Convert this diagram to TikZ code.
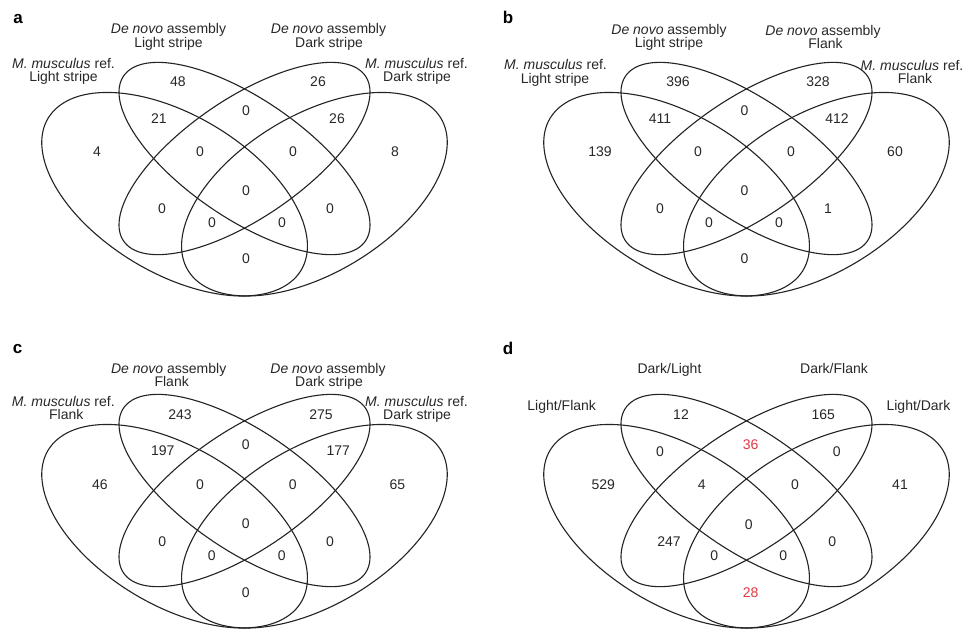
\documentclass[tikz,border=0pt]{standalone}
\usepackage{fontspec}
\setmainfont{Liberation Sans}
\definecolor{linec}{RGB}{35,35,35}
\definecolor{txt}{RGB}{40,40,40}
\definecolor{redc}{RGB}{226,58,70}
\tikzset{
  venn/.style={draw=linec, line width=1.1pt},
  lab/.style={font=\fontsize{14}{14}\selectfont, inner sep=0pt, anchor=base, text=txt},
  num/.style={font=\fontsize{14}{14}\selectfont, inner sep=0pt, text=txt},
  rednum/.style={num, text=redc},
  panel/.style={font=\fontsize{17}{17}\selectfont\bfseries, inner sep=0pt, anchor=base, text=black}
}
\newcommand{\quadvenn}[2]{%
\begin{scope}[shift={(#1,#2)}, xscale=466, yscale=357]
  \draw[venn, shift={(0.35,-0.47)}, rotate=-45] (0,0) ellipse [x radius=0.35, y radius=0.2];
  \draw[venn, shift={(0.5,-0.57)}, rotate=-45] (0,0) ellipse [x radius=0.35, y radius=0.15];
  \draw[venn, shift={(0.5,-0.57)}, rotate=45] (0,0) ellipse [x radius=0.35, y radius=0.15];
  \draw[venn, shift={(0.65,-0.47)}, rotate=45] (0,0) ellipse [x radius=0.35, y radius=0.2];
\end{scope}}
\begin{document}
\begin{tikzpicture}[x=1pt, y=-1pt]
\useasboundingbox[fill=white] (0,0) rectangle (967,633);

% ---------------- panel a ----------------
\quadvenn{11.5}{362}
\node[panel] (pa) at (18,23) {a};
\node[lab] (a1a) at (63.5,68) {\textit{M. musculus} ref.};
\node[lab] (a1b) at (63.5,81.5) {Light stripe};
\node[lab] (a2a) at (168.5,33.5) {\textit{De novo} assembly};
\node[lab] (a2b) at (168.5,47) {Light stripe};
\node[lab] (a3a) at (328.5,33.5) {\textit{De novo} assembly};
\node[lab] (a3b) at (329,47) {Dark stripe};
\node[lab] (a4a) at (416.5,68) {\textit{M. musculus} ref.};
\node[lab] (a4b) at (417,81.5) {Dark stripe};
\node[num] (an1) at (178,82) {48};
\node[num] (an2) at (318,82) {26};
\node[num] (an3) at (246,111) {0};
\node[num] (an4) at (159,119) {21};
\node[num] (an5) at (337,119) {26};
\node[num] (an6) at (97,152) {4};
\node[num] (an7) at (200,152) {0};
\node[num] (an8) at (293,152) {0};
\node[num] (an9) at (395,152) {8};
\node[num] (an10) at (246,191) {0};
\node[num] (an11) at (162,209) {0};
\node[num] (an12) at (330,209) {0};
\node[num] (an13) at (212,223) {0};
\node[num] (an14) at (282,223) {0};
\node[num] (an15) at (246,259) {0};

% ---------------- panel b ----------------
\quadvenn{513.5}{362}
\node[panel] (pb) at (508,23.3) {b};
\node[lab] (b1a) at (555.5,69.5) {\textit{M. musculus} ref.};
\node[lab] (b1b) at (555,83) {Light stripe};
\node[lab] (b2a) at (669,34.5) {\textit{De novo} assembly};
\node[lab] (b2b) at (669,47.5) {Light stripe};
\node[lab] (b3a) at (823,35) {\textit{De novo} assembly};
\node[lab] (b3b) at (825.5,48) {Flank};
\node[lab] (b4a) at (912,70) {\textit{M. musculus} ref.};
\node[lab] (b4b) at (915,83.5) {Flank};
\node[num] (bn1) at (678,82) {396};
\node[num] (bn2) at (818,82) {328};
\node[num] (bn3) at (744.5,111) {0};
\node[num] (bn4) at (660,119) {411};
\node[num] (bn5) at (837,119) {412};
\node[num] (bn6) at (600,152) {139};
\node[num] (bn7) at (698,152) {0};
\node[num] (bn8) at (791,152) {0};
\node[num] (bn9) at (895,152) {60};
\node[num] (bn10) at (744.5,191) {0};
\node[num] (bn11) at (660,209) {0};
\node[num] (bn12) at (828,209) {1};
\node[num] (bn13) at (709,223) {0};
\node[num] (bn14) at (779,223) {0};
\node[num] (bn15) at (744.5,259) {0};

% ---------------- panel c ----------------
\quadvenn{11.5}{694}
\node[panel] (pc) at (17.7,353.7) {c};
\node[lab] (c1a) at (63.3,406.5) {\textit{M. musculus} ref.};
\node[lab] (c1b) at (66.3,419.5) {Flank};
\node[lab] (c2a) at (168.7,373) {\textit{De novo} assembly};
\node[lab] (c2b) at (171.7,386) {Flank};
\node[lab] (c3a) at (328,373) {\textit{De novo} assembly};
\node[lab] (c3b) at (329,386) {Dark stripe};
\node[lab] (c4a) at (416.5,406.5) {\textit{M. musculus} ref.};
\node[lab] (c4b) at (417,419.5) {Dark stripe};
\node[num] (cn1) at (180,415) {243};
\node[num] (cn2) at (321,415) {275};
\node[num] (cn3) at (245.7,444.3) {0};
\node[num] (cn4) at (162.7,451) {197};
\node[num] (cn5) at (338.3,451) {177};
\node[num] (cn6) at (100,484.3) {46};
\node[num] (cn7) at (200,484.3) {0};
\node[num] (cn8) at (292.7,484.3) {0};
\node[num] (cn9) at (397.3,484.3) {65};
\node[num] (cn10) at (245.7,523.7) {0};
\node[num] (cn11) at (162.3,542) {0};
\node[num] (cn12) at (330,542) {0};
\node[num] (cn13) at (211.7,556) {0};
\node[num] (cn14) at (281.7,556) {0};
\node[num] (cn15) at (245.7,592.7) {0};

% ---------------- panel d ----------------
\quadvenn{513.5}{694}
\node[panel] (pd) at (508,354.3) {d};
\node[lab] (d1) at (561.7,410.3) {Light/Flank};
\node[lab] (d2) at (669.5,373.3) {Dark/Light};
\node[lab] (d3) at (834,373.3) {Dark/Flank};
\node[lab] (d4) at (918.5,410.3) {Light/Dark};
\node[num] (dn1) at (681,415) {12};
\node[num] (dn2) at (823.3,415) {165};
\node[rednum] (dn3) at (750.7,444.3) {36};
\node[num] (dn4) at (660,451.7) {0};
\node[num] (dn5) at (836.7,451.7) {0};
\node[num] (dn6) at (603.3,484.3) {529};
\node[num] (dn7) at (701.7,484.3) {4};
\node[num] (dn8) at (795,484.3) {0};
\node[num] (dn9) at (900,484.3) {41};
\node[num] (dn10) at (748.7,524.3) {0};
\node[num] (dn11) at (669,542) {247};
\node[num] (dn12) at (832.3,542) {0};
\node[num] (dn13) at (714.3,556) {0};
\node[num] (dn14) at (783.3,556) {0};
\node[rednum] (dn15) at (750.7,592.7) {28};
\end{tikzpicture}
\end{document}
